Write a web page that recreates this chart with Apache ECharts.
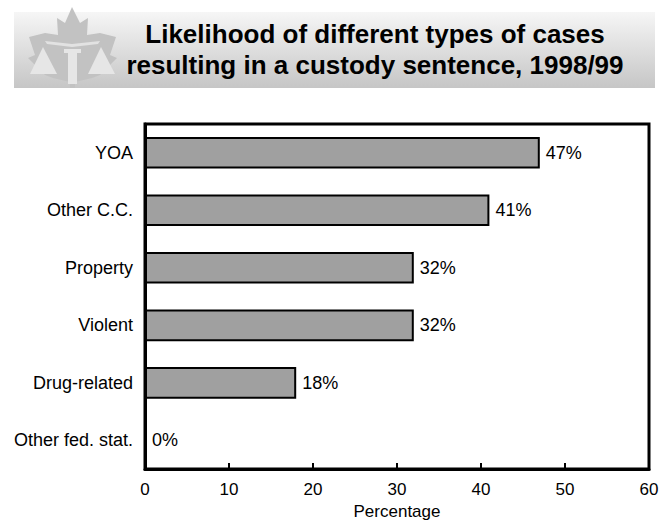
<!DOCTYPE html>
<html><head><meta charset="utf-8">
<script src="https://cdn.jsdelivr.net/npm/echarts@6/dist/echarts.min.js"></script>
<style>html,body{margin:0;padding:0;background:#fff}#c{width:662px;height:525px}</style>
</head><body><div id="c"></div>
<script>
const titleLines = ['Likelihood of different types of cases', 'resulting in a custody sentence, 1998/99'];
const categories = ['YOA', 'Other C.C.', 'Property', 'Violent', 'Drug-related', 'Other fed. stat.'];
const values = [47, 41, 32, 32, 18, 0];
const xTicks = [0, 10, 20, 30, 40, 50, 60];
const xName = 'Percentage';

const FONT = '"Liberation Sans", Arial, sans-serif';
const chart = echarts.init(document.getElementById('c'), null, {renderer: 'svg'});

const leaf = [[72,7],[80,23],[88,18],[87,35],[100,33],[116,37],[110,55],[117,58],[100,75],[92,78],[75,82],[75,88],[70,88],[70,82],[53,78],[45,75],[28,58],[35,55],[29,37],[45,33],[58,35],[57,18],[65,23]];

chart.setOption({
  animation: false,
  graphic: [
    {type: 'rect', z: -10, shape: {x: 14, y: 12, width: 641, height: 76},
     style: {fill: new echarts.graphic.LinearGradient(0, 0, 0, 1, [{offset: 0, color: '#f6f6f6'}, {offset: 1, color: '#c6c6c6'}])}},
    {type: 'polygon', z: -9, shape: {points: leaf}, style: {fill: '#c2c2c2'}},
    {type: 'polygon', z: -8, shape: {points: [[30,74],[43,47],[57,74]]}, style: {fill: '#e6e6e6'}},
    {type: 'polygon', z: -8, shape: {points: [[88,74],[101,47],[115,74]]}, style: {fill: '#e6e6e6'}},
    {type: 'polygon', z: -8, shape: {points: [[45,41],[72,44],[100,41],[98,44],[72,47],[47,44]]}, style: {fill: '#e2e2e2'}},
    {type: 'rect', z: -8, shape: {x: 64, y: 49, width: 17, height: 4}, style: {fill: '#e6e6e6'}},
    {type: 'rect', z: -8, shape: {x: 68, y: 52, width: 9, height: 32}, style: {fill: '#e6e6e6'}},
    {type: 'text', z: 5, x: 375, y: 34, style: {text: titleLines[0], font: 'bold 26px ' + FONT, fill: '#000', align: 'center', verticalAlign: 'middle'}},
    {type: 'text', z: 5, x: 375, y: 65, style: {text: titleLines[1], font: 'bold 26px ' + FONT, fill: '#000', align: 'center', verticalAlign: 'middle'}}
  ],
  grid: {left: 145, right: 13, top: 124, bottom: 52, show: true, borderColor: '#000', borderWidth: 3, containLabel: false},
  xAxis: {
    type: 'value', min: xTicks[0], max: xTicks[xTicks.length - 1], interval: 10,
    name: xName, nameLocation: 'middle', nameGap: 31,
    nameTextStyle: {fontFamily: FONT, fontSize: 17, color: '#000'},
    axisLine: {show: true, lineStyle: {color: '#000', width: 3}},
    axisTick: {show: true, inside: true, length: 6, lineStyle: {color: '#000', width: 2}},
    axisLabel: {fontFamily: FONT, fontSize: 17, color: '#000', margin: 12},
    splitLine: {show: false}
  },
  yAxis: {
    type: 'category', data: categories, inverse: true,
    axisLine: {show: true, lineStyle: {color: '#000', width: 3}},
    axisTick: {show: false},
    axisLabel: {fontFamily: FONT, fontSize: 18, color: '#000', margin: 12}
  },
  series: [{
    type: 'bar', data: values, barWidth: '55%',
    itemStyle: {color: '#a0a0a0', borderColor: '#000', borderWidth: 2},
    label: {show: true, position: 'right', distance: 6, formatter: '{c}%', fontFamily: FONT, fontSize: 18, color: '#000'}
  }]
});
</script></body></html>
